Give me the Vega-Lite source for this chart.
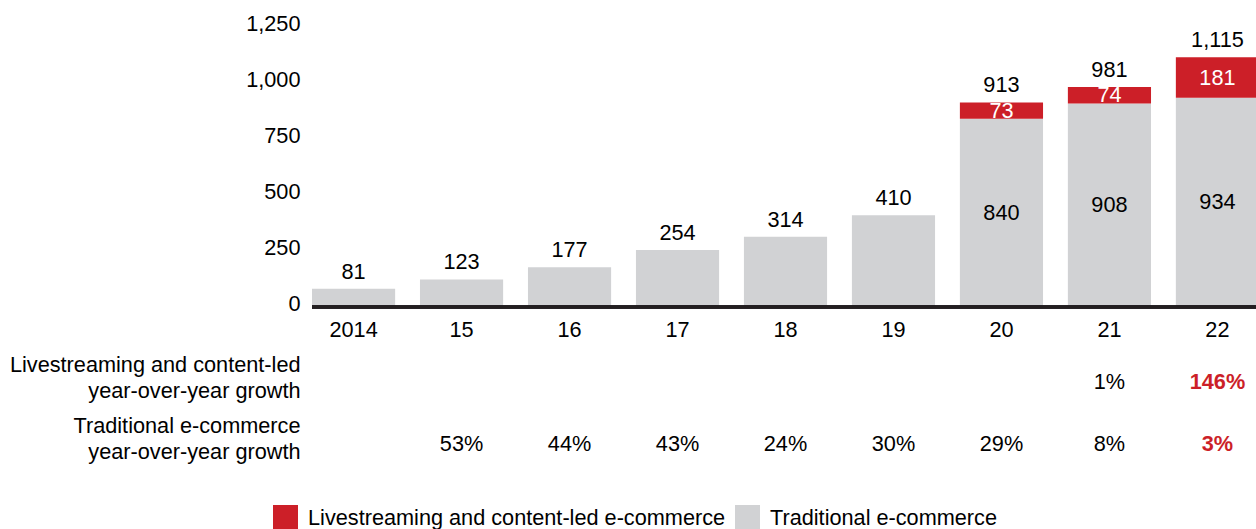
{
  "$schema": "https://vega.github.io/schema/vega-lite/v6.json",
  "background": "white",
  "padding": {"left": 9, "top": 13, "right": 0, "bottom": 0},
  "spacing": 0,
  "config": {
    "font": "Liberation Sans",
    "view": {"stroke": null},
    "axis": {"labelFont": "Liberation Sans", "labelFontSize": 21.7, "labelColor": "#000000", "grid": false, "ticks": false, "title": null, "labelLimit": 400},
    "text": {"font": "Liberation Sans", "fontSize": 21.7},
    "legend": {"labelFont": "Liberation Sans"}
  },
  "datasets": {
    "bars": [
      {"year": "2014", "seg": "Traditional e-commerce", "value": 81},
      {"year": "15", "seg": "Traditional e-commerce", "value": 123},
      {"year": "16", "seg": "Traditional e-commerce", "value": 177},
      {"year": "17", "seg": "Traditional e-commerce", "value": 254},
      {"year": "18", "seg": "Traditional e-commerce", "value": 314},
      {"year": "19", "seg": "Traditional e-commerce", "value": 410},
      {"year": "20", "seg": "Traditional e-commerce", "value": 840},
      {"year": "21", "seg": "Traditional e-commerce", "value": 908},
      {"year": "22", "seg": "Traditional e-commerce", "value": 934},
      {"year": "20", "seg": "Livestreaming and content-led e-commerce", "value": 73},
      {"year": "21", "seg": "Livestreaming and content-led e-commerce", "value": 74},
      {"year": "22", "seg": "Livestreaming and content-led e-commerce", "value": 181}
    ],
    "totals": [
      {"year": "2014", "total": 81},
      {"year": "15", "total": 123},
      {"year": "16", "total": 177},
      {"year": "17", "total": 254},
      {"year": "18", "total": 314},
      {"year": "19", "total": 410},
      {"year": "20", "total": 913},
      {"year": "21", "total": 981},
      {"year": "22", "total": 1115}
    ],
    "growth": [
      {"year": "21", "row": "Livestreaming and content-led|year-over-year growth", "label": "1%"},
      {"year": "22", "row": "Livestreaming and content-led|year-over-year growth", "label": "146%"},
      {"year": "15", "row": "Traditional e-commerce|year-over-year growth", "label": "53%"},
      {"year": "16", "row": "Traditional e-commerce|year-over-year growth", "label": "44%"},
      {"year": "17", "row": "Traditional e-commerce|year-over-year growth", "label": "43%"},
      {"year": "18", "row": "Traditional e-commerce|year-over-year growth", "label": "24%"},
      {"year": "19", "row": "Traditional e-commerce|year-over-year growth", "label": "30%"},
      {"year": "20", "row": "Traditional e-commerce|year-over-year growth", "label": "29%"},
      {"year": "21", "row": "Traditional e-commerce|year-over-year growth", "label": "8%"},
      {"year": "22", "row": "Traditional e-commerce|year-over-year growth", "label": "3%"}
    ]
  },
  "vconcat": [
    {
      "width": 947,
      "height": 280,
      "layer": [
        {
          "data": {"name": "bars"},
          "mark": {"type": "bar"},
          "encoding": {
            "x": {"field": "year", "type": "ordinal", "scale": {"type": "band", "domain": ["2014", "15", "16", "17", "18", "19", "20", "21", "22"], "paddingInner": 0.23, "paddingOuter": 0},
                  "axis": {"labelAngle": 0, "domain": false, "labelPadding": 12}},
            "y": {"field": "value", "type": "quantitative", "stack": "zero", "scale": {"domain": [0, 1250], "nice": false, "zero": true},
                  "axis": {"values": [0, 250, 500, 750, 1000, 1250], "labelExpr": "format(datum.value, ',')", "domain": false, "labelPadding": 12, "labelOffset": -4}},
            "color": {"field": "seg", "type": "nominal",
                      "scale": {"domain": ["Livestreaming and content-led e-commerce", "Traditional e-commerce"], "range": ["#CC1F28", "#D1D2D4"]},
                      "legend": {"orient": "none", "legendX": -39, "legendY": 478, "direction": "horizontal", "title": null, "symbolType": "square", "symbolSize": 625, "symbolStrokeWidth": 0, "symbolOpacity": 1, "labelFontSize": 21.7, "labelColor": "#000000", "labelOffset": 10, "columnPadding": 9, "labelLimit": 600}},
            "order": {"field": "seg", "sort": "descending"}
          }
        },
        {
          "data": {"name": "bars"},
          "mark": {"type": "rule", "color": "#231f20", "strokeWidth": 2.5},
          "encoding": {
            "y": {"datum": 0, "type": "quantitative"}
          }
        },
        {
          "data": {"name": "bars"},
          "transform": [
            {"filter": "datum.year === '20' || datum.year === '21' || datum.year === '22'"},
            {"stack": "value", "groupby": ["year"], "sort": [{"field": "seg", "order": "descending"}], "as": ["v0", "v1"]},
            {"fold": ["v0", "v1"], "as": ["edge", "ev"]}
          ],
          "mark": {"type": "text", "baseline": "middle", "align": "center"},
          "encoding": {
            "x": {"field": "year", "type": "ordinal"},
            "y": {"aggregate": "mean", "field": "ev", "type": "quantitative"},
            "detail": {"field": "seg", "type": "nominal"},
            "text": {"field": "value", "type": "quantitative"},
            "color": {"condition": {"test": "datum.seg === 'Traditional e-commerce'", "value": "#000000"}, "value": "#ffffff"}
          }
        },
        {
          "data": {"name": "totals"},
          "mark": {"type": "text", "baseline": "alphabetic", "align": "center", "dy": -10, "color": "#000000"},
          "encoding": {
            "x": {"field": "year", "type": "ordinal"},
            "y": {"field": "total", "type": "quantitative"},
            "text": {"field": "total", "type": "quantitative", "format": ","}
          }
        }
      ]
    },
    {
      "width": 947,
      "height": 108,
      "data": {"name": "growth"},
      "encoding": {
        "x": {"field": "year", "type": "ordinal", "scale": {"type": "band", "domain": ["2014", "15", "16", "17", "18", "19", "20", "21", "22"], "paddingInner": 0.23, "paddingOuter": 0}, "axis": null},
        "y": {"field": "row", "type": "nominal", "sort": ["Livestreaming and content-led|year-over-year growth", "Traditional e-commerce|year-over-year growth"],
              "scale": {"type": "point", "padding": 0.371},
              "axis": {"labelExpr": "split(datum.label, '|')", "domain": false, "labelPadding": 12, "labelLineHeight": 26, "labelAlign": "right", "labelBaseline": "middle"}},
        "text": {"field": "label", "type": "nominal"}
      },
      "layer": [
        {
          "transform": [{"filter": "datum.year !== '22'"}],
          "mark": {"type": "text", "baseline": "middle", "color": "#000000", "dy": 18}
        },
        {
          "transform": [{"filter": "datum.year === '22'"}],
          "mark": {"type": "text", "baseline": "middle", "color": "#CC1F28", "fontWeight": "bold", "dy": 18}
        }
      ]
    }
  ]
}
